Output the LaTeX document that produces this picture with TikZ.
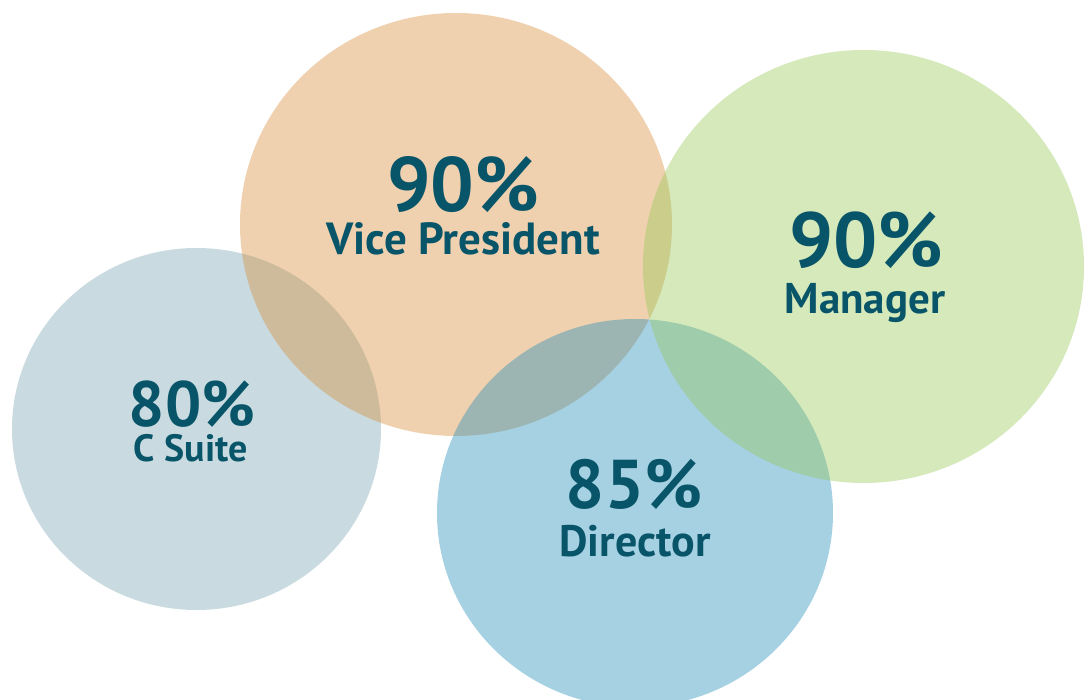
\documentclass[tikz,border=0pt]{standalone}
\usepackage{fontspec}
\setmainfont{PT Sans}
\definecolor{ink}{RGB}{8,84,104}
\definecolor{csuite}{RGB}{120,165,178}
\definecolor{vpc}{RGB}{215,140,55}
\definecolor{dirc}{RGB}{32,140,185}
\definecolor{mgrc}{RGB}{150,200,87}
\tikzset{
  blob/.style={fill opacity=0.4},
  pct/.style={text=ink, anchor=base, inner sep=0pt, font=\bfseries},
  lbl/.style={text=ink, anchor=base, inner sep=0pt, font=\bfseries},
}
\begin{document}
\begin{tikzpicture}[x=1pt,y=-1pt]
\useasboundingbox (0,0) rectangle (1085,700);
\fill[white] (0,0) rectangle (1085,700);
% circles (draw order: C Suite, VP, Director, Manager)
\fill[blob, csuite] (196.5,429) ellipse [x radius=184.5, y radius=181];
\fill[blob, vpc] (456,224.5) ellipse [x radius=216, y radius=211.5];
\fill[blob, dirc] (635,513) ellipse [x radius=198, y radius=194];
\fill[blob, mgrc] (863.5,266.5) ellipse [x radius=220.5, y radius=216.5];
% texts
\node[pct] (vpn) at (463,212) {\fontsize{77}{77}\selectfont 90\%};
\node[lbl] (vpl) at (463,255) {\fontsize{45}{45}\selectfont Vice President};
\node[pct] (mgn) at (866,268) {\fontsize{78}{78}\selectfont 90\%};
\node[lbl] (mgl) at (865,314) {\fontsize{43}{43}\selectfont Manager};
\node[pct] (csn) at (192,427) {\fontsize{64}{64}\selectfont 80\%};
\node[lbl] (csl) at (191,462) {\fontsize{38}{38}\selectfont C Suite};
\node[pct] (drn) at (634,508) {\fontsize{69}{69}\selectfont 85\%};
\node[lbl] (drl) at (635,556) {\fontsize{44}{44}\selectfont Director};
\end{tikzpicture}
\end{document}
